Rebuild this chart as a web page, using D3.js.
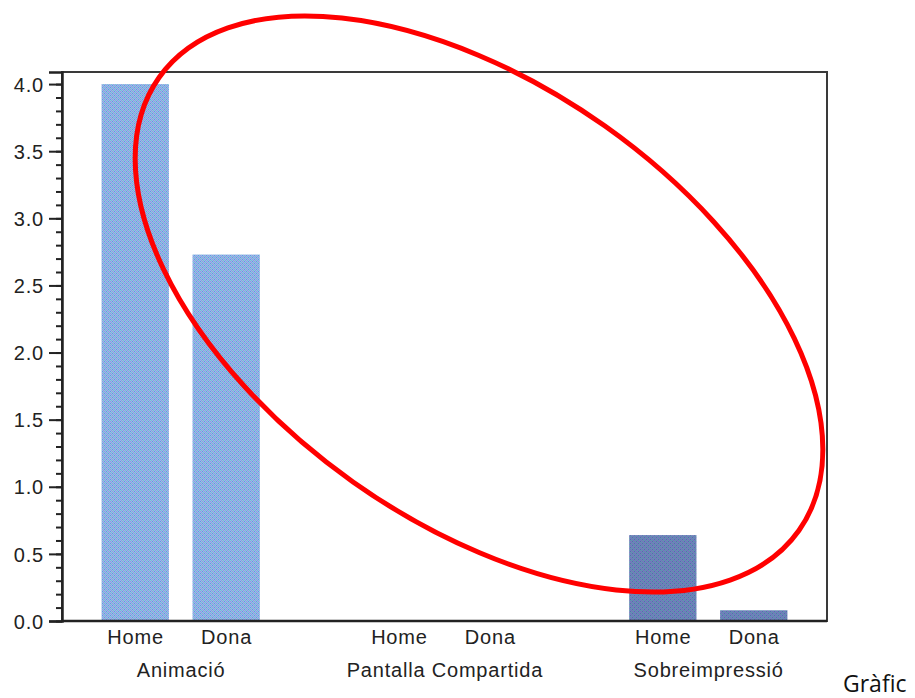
<!DOCTYPE html>
<html>
<head>
<meta charset="utf-8">
<script src="https://cdn.jsdelivr.net/npm/d3@7"></script>
<style>
  html, body { margin: 0; padding: 0; background: #fff; }
  svg { display: block; }
</style>
</head>
<body>
<svg id="chart" width="915" height="698"></svg>
<script>
// Categories and series
const groups = ["Animació", "Pantalla Compartida", "Sobreimpressió"];
const genders = ["Home", "Dona"];
const valuesHome = [4.0, 0, 0.64];
const valuesDona = [2.73, 0, 0.08];
const majorTicks = [0, 0.5, 1.0, 1.5, 2.0, 2.5, 3.0, 3.5, 4.0];
const minorTicks = d3.range(0, 41).map(i => i / 10);
const footLabel = "Gràfic";

const svg = d3.select("#chart");
const plot = { left: 62, right: 827, top: 72, bottom: 621 };

// Dithered fills for the two bar styles
const defs = svg.append("defs");
function dither(id, cols) {
  const p = defs.append("pattern").attr("id", id)
    .attr("patternUnits", "userSpaceOnUse").attr("width", 4).attr("height", 4);
  const grid = [
    [0, 1, 0, 2],
    [3, 0, 1, 0],
    [0, 2, 0, 1],
    [1, 0, 3, 0]
  ];
  grid.forEach((row, r) => row.forEach((c, k) => {
    p.append("rect").attr("x", k).attr("y", r).attr("width", 1).attr("height", 1).attr("fill", cols[c]);
  }));
}
dither("fillLight", ["#8fbcf2", "#9c9ad6", "#7cc2c6", "#6b98d8"]);
dither("fillDark", ["#6a86bc", "#7674b8", "#5a9aa6", "#5470a8"]);

const x0 = d3.scaleBand().domain(groups).range([plot.left, plot.right])
  .paddingInner(0.1).paddingOuter(0);
const x1 = d3.scaleBand().domain(genders).range([0, x0.bandwidth()])
  .paddingInner(0.26).paddingOuter(0.435);
const y = d3.scaleLinear().domain([0, 4.09]).range([plot.bottom, plot.top]);

// Plot frame
svg.append("rect")
  .attr("x", plot.left).attr("y", plot.top)
  .attr("width", plot.right - plot.left).attr("height", plot.bottom - plot.top)
  .attr("fill", "none").attr("stroke", "#3a3a3a").attr("stroke-width", 2);

// Bars
const rows = [];
groups.forEach((g, i) => {
  rows.push({ g, s: "Home", v: valuesHome[i], i });
  rows.push({ g, s: "Dona", v: valuesDona[i], i });
});
svg.append("g").selectAll("rect").data(rows.filter(d => d.v > 0)).join("rect")
  .attr("x", d => x0(d.g) + x1(d.s))
  .attr("width", x1.bandwidth())
  .attr("y", d => y(d.v))
  .attr("height", d => y(0) - y(d.v))
  .attr("fill", d => d.i === 2 ? "url(#fillDark)" : "url(#fillLight)");

// Y axis: minor ticks then major ticks with labels
const font = "'Liberation Sans', Arial, sans-serif";
const spacing = 0.8;
svg.append("g").attr("transform", `translate(${plot.left},0)`)
  .call(d3.axisLeft(y).tickValues(minorTicks).tickSize(6).tickFormat(""))
  .call(g => g.select(".domain").remove())
  .call(g => g.selectAll("line").attr("stroke", "#222").attr("stroke-width", 2));
const yAxis = svg.append("g").attr("transform", `translate(${plot.left},0)`)
  .call(d3.axisLeft(y).tickValues(majorTicks).tickSize(13).tickPadding(5).tickFormat(d3.format(".1f")));
yAxis.select(".domain").attr("stroke", "#222").attr("stroke-width", 2.5);
yAxis.selectAll("line").attr("stroke", "#222").attr("stroke-width", 2);
yAxis.selectAll("text").attr("font-family", font).attr("font-size", 20)
  .attr("letter-spacing", spacing)
  .attr("fill", "#222").attr("dy", "0.36em");

// Bottom axis line
svg.append("line")
  .attr("x1", plot.left).attr("x2", plot.right)
  .attr("y1", plot.bottom).attr("y2", plot.bottom)
  .attr("stroke", "#222").attr("stroke-width", 2.5);

// Category labels
const lab = svg.append("g").attr("font-family", font).attr("font-size", 20)
  .attr("letter-spacing", spacing)
  .attr("fill", "#222").attr("text-anchor", "middle");
rows.forEach(d => {
  lab.append("text")
    .attr("x", x0(d.g) + x1(d.s) + x1.bandwidth() / 2 + spacing / 2)
    .attr("y", 644)
    .text(d.s);
});
groups.forEach(g => {
  lab.append("text")
    .attr("x", x0(g) + x0.bandwidth() / 2 + spacing / 2)
    .attr("y", 677)
    .text(g);
});

// Highlight ellipse
svg.append("ellipse")
  .attr("cx", 479).attr("cy", 304).attr("rx", 392).attr("ry", 218)
  .attr("transform", "rotate(35.3,479,304)")
  .attr("fill", "none").attr("stroke", "#ff0000").attr("stroke-width", 5);

// Footer caption
svg.append("text")
  .attr("x", 843).attr("y", 692)
  .attr("font-family", "'Open Sans', 'Noto Sans', sans-serif")
  .attr("font-size", 23).attr("fill", "#111")
  .text(footLabel);
</script>
</body>
</html>
